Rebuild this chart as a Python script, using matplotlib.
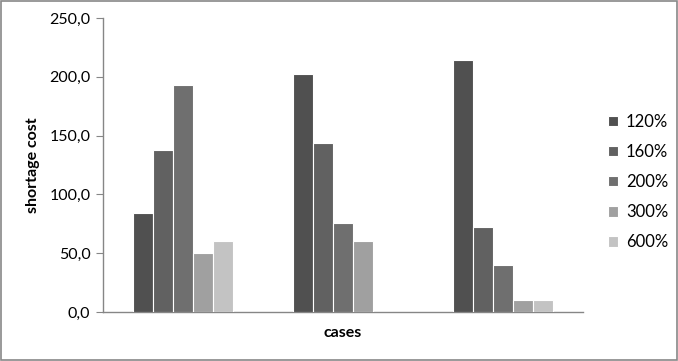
import matplotlib
matplotlib.use("Agg")
import matplotlib.pyplot as plt
import numpy as np
from matplotlib.patches import Rectangle
from matplotlib.ticker import FuncFormatter

# data
cases = ["", "", ""]
series = ["120%", "160%", "200%", "300%", "600%"]
v120 = [84, 202, 214]
v160 = [138, 144, 72]
v200 = [193, 76, 40]
v300 = [50, 60, 10]
v600 = [60, 0, 10]
values = [v120, v160, v200, v300, v600]
colors = ["#505050", "#616161", "#6f6f6f", "#a0a0a0", "#c3c3c3"]

plt.rcParams["font.family"] = ["Lato", "DejaVu Sans"]

fig = plt.figure(figsize=(6.78, 3.61), dpi=100)
ax = fig.add_axes([0.1519, 0.1357, 0.708, 0.8143])

x = np.arange(len(cases))
width = 0.125
for i, (name, vals) in enumerate(zip(series, values)):
    offs = (i - 2) * width
    ax.bar(x + offs, vals, width=width, color=colors[i], edgecolor="white",
           linewidth=0.8, label=name, zorder=3)

ax.set_xlim(-0.5, 2.5)
ax.set_ylim(0, 250)
ax.set_yticks(np.arange(0, 251, 50))
ax.yaxis.set_major_formatter(FuncFormatter(lambda v, p: f"{v:.1f}".replace(".", ",")))
ax.set_xticks([])
ax.tick_params(axis="y", length=5, color="#868686", labelsize=11.5, pad=4)

for s in ["top", "right"]:
    ax.spines[s].set_visible(False)
for s in ["left", "bottom"]:
    ax.spines[s].set_color("#868686")
    ax.spines[s].set_linewidth(1.0)

ax.set_xlabel("cases", fontsize=11.5, fontweight="bold", labelpad=10)
ax.set_ylabel("shortage cost", fontsize=11.5, fontweight="bold", labelpad=7)

ax.legend(loc="center left", bbox_to_anchor=(1.02, 0.442), frameon=False,
          fontsize=12, handlelength=0.6, handleheight=0.6, handletextpad=0.5,
          labelspacing=0.85)

fig.patches.append(Rectangle((0.001, 0.002), 0.997, 0.995, transform=fig.transFigure,
                             fill=False, edgecolor="#888888", linewidth=1.2))

fig.savefig("out.png", dpi=100)
